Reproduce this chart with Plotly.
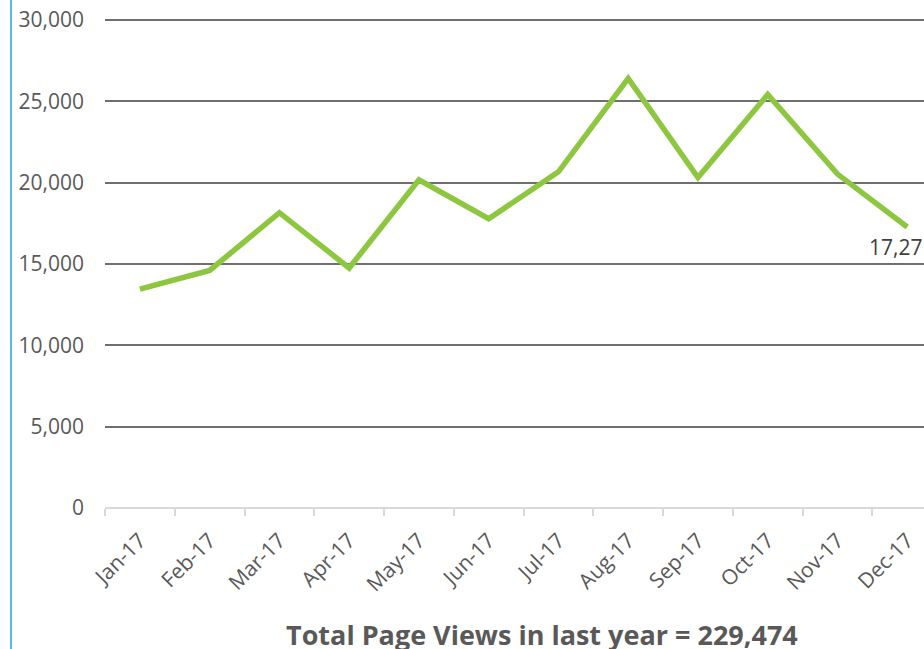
import plotly.graph_objects as go

months = ["Jan-17", "Feb-17", "Mar-17", "Apr-17", "May-17", "Jun-17",
          "Jul-17", "Aug-17", "Sep-17", "Oct-17", "Nov-17", "Dec-17"]
page_views = [13450, 14600, 18150, 14750, 20170, 17780,
              20660, 26400, 20310, 25410, 20523, 17271]
y_ticks = [0, 5000, 10000, 15000, 20000, 25000, 30000]
y_tick_labels = ["0", "5,000", "10,000", "15,000", "20,000", "25,000", "30,000"]
title_text = "Total Page Views in last year = 229,474"

FONT = "Open Sans"
TXT = "#595959"

fig = go.Figure()
fig.add_trace(go.Scatter(
    x=months, y=page_views, mode="lines",
    line=dict(color="#8dc63f", width=5.5),
    showlegend=False, hoverinfo="x+y",
))

fig.update_layout(
    width=924, height=649,
    margin=dict(l=105, r=0, t=15, b=141),
    paper_bgcolor="white", plot_bgcolor="white",
    font=dict(family=FONT, color=TXT),
    xaxis=dict(
        type="category",
        range=[-0.5, 11.24],
        showgrid=False,
        showline=False,
        ticks="outside", tickson="boundaries", ticklen=7,
        tickcolor="#d9d9d9", tickwidth=2,
        tickangle=-45,
        ticklabelstandoff=15,
        tickfont=dict(family=FONT, size=21, color=TXT),
    ),
    yaxis=dict(
        range=[0, 30300],
        tickvals=y_ticks, ticktext=y_tick_labels,
        showgrid=True, gridcolor="#6f6f6f", gridwidth=2,
        zeroline=True, zerolinecolor="#d9d9d9", zerolinewidth=2,
        showline=False, ticks="",
        ticklabelstandoff=20,
        tickfont=dict(family=FONT, size=21, color=TXT),
    ),
    annotations=[
        dict(
            text=f"<b>{title_text}</b>",
            xref="paper", yref="paper",
            x=(542 - 105) / 819, y=-(634 - 508) / 493,
            xanchor="center", yanchor="middle", showarrow=False,
            font=dict(family=FONT, size=27, color=TXT),
        ),
        dict(
            text=f"{page_views[-1]:,}",
            x=months[-1], y=page_views[-1],
            xanchor="left", yanchor="top", xshift=-40, yshift=-4,
            showarrow=False,
            font=dict(family=FONT, size=21, color="#404040"),
        ),
    ],
    shapes=[dict(
        type="line", xref="paper", yref="paper",
        x0=(11 - 105) / 819, x1=(11 - 105) / 819, y0=-2, y1=2,
        line=dict(color="#55b9e9", width=2),
    )],
)

fig.write_html("out.html", config={"displayModeBar": False},
               post_script="document.body.style.margin='0px';")
